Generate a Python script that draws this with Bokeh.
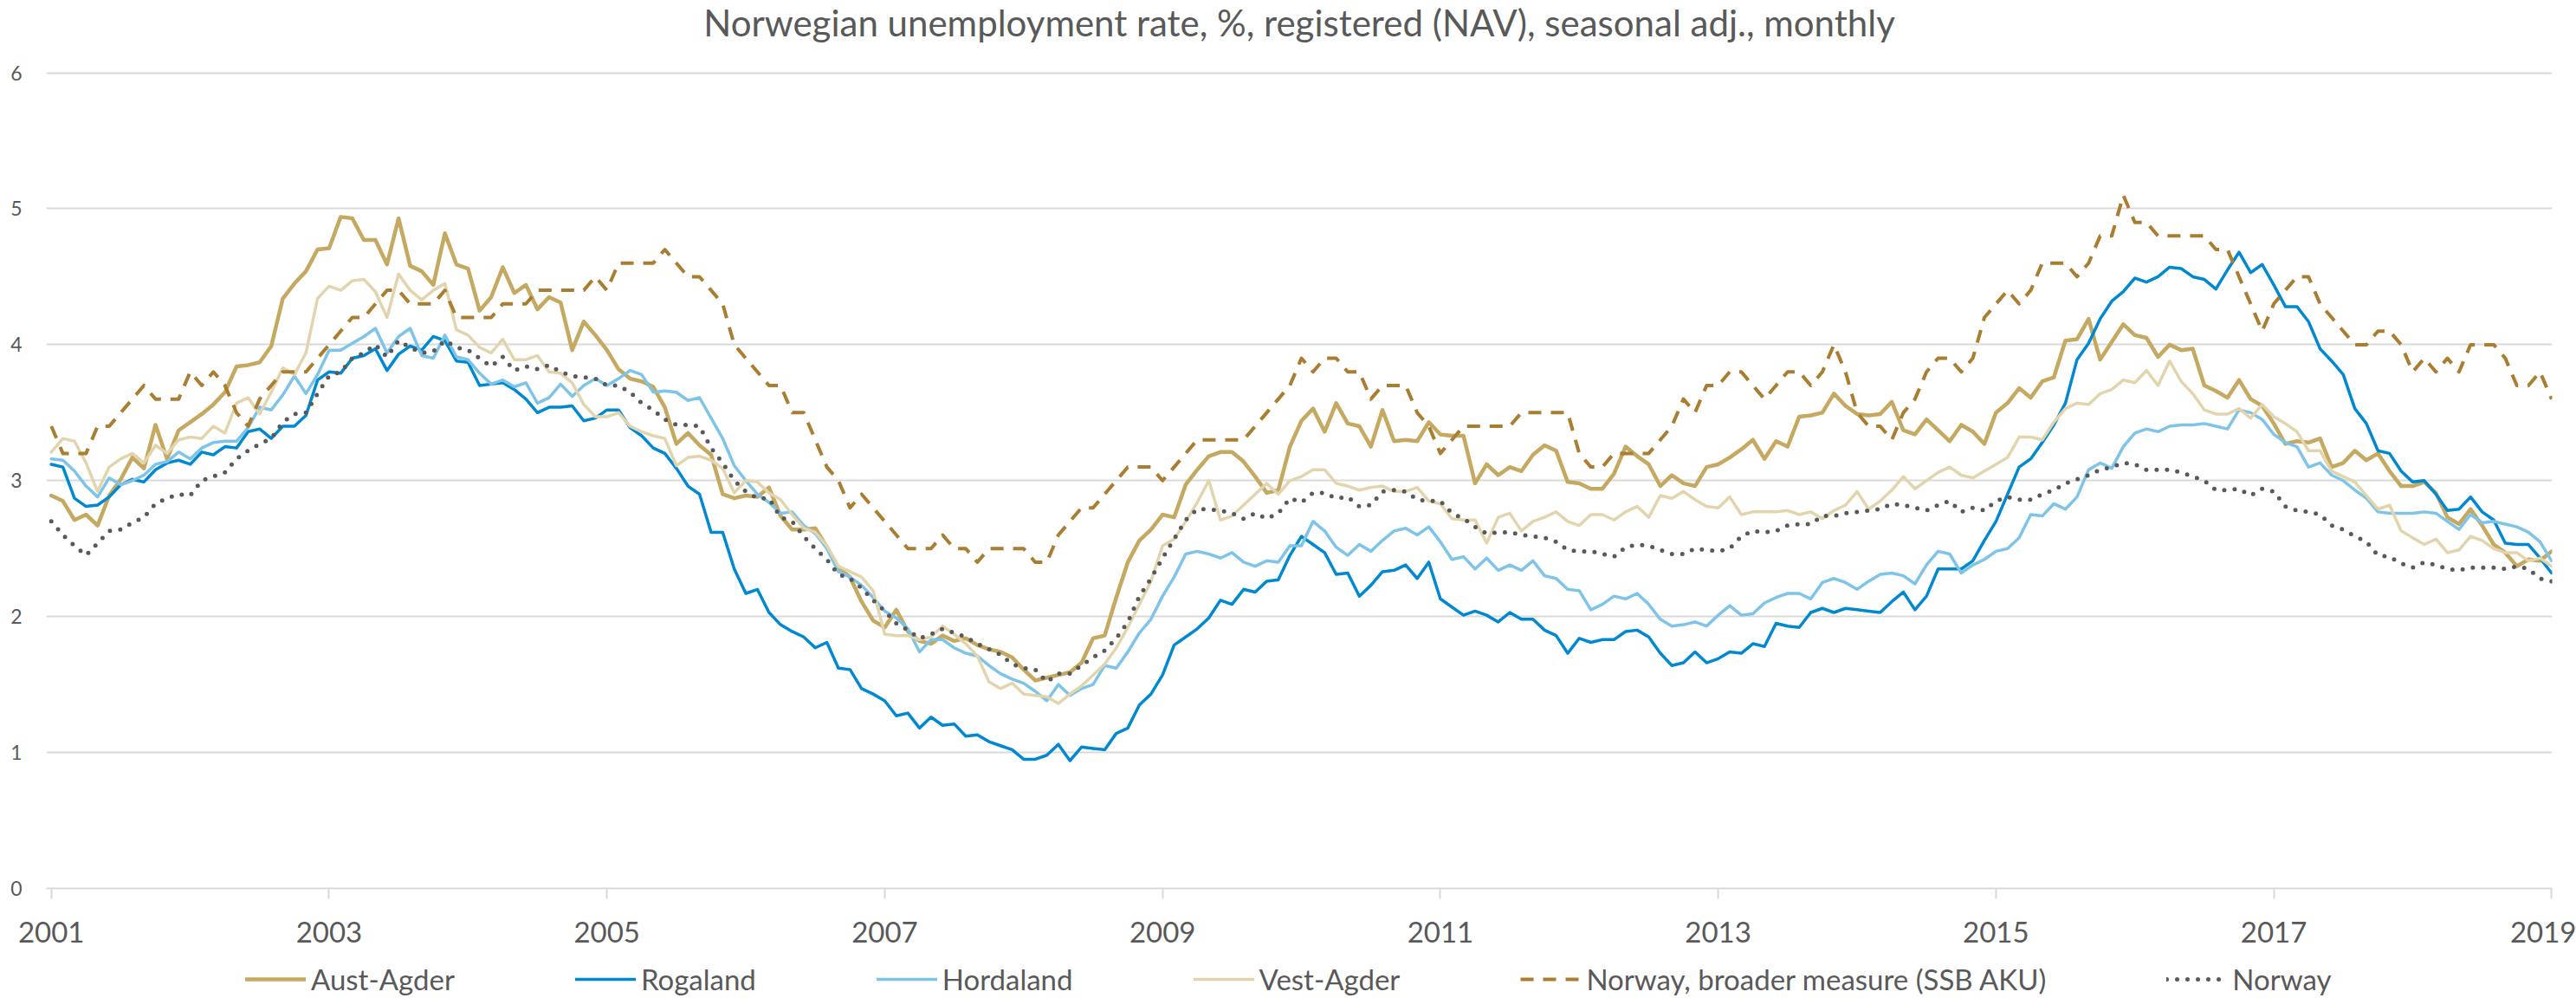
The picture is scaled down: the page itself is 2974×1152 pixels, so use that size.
from bokeh.plotting import figure
from bokeh.layouts import column
from bokeh.models import Range1d, FixedTicker, Legend, LegendItem, ColumnDataSource, Label
from bokeh.embed import file_html
from bokeh.resources import INLINE

FONT = "Lato"
TXT = "#595959"
TITLE = "Norwegian unemployment rate, %, registered (NAV), seasonal adj., monthly"

start_year = 2001
n_months = 217  # Jan 2001 .. Jan 2019
months = [f"{start_year + k // 12}-{k % 12 + 1:02d}" for k in range(n_months)]
tick_labels = ["2001", "2003", "2005", "2007", "2009", "2011", "2013", "2015", "2017", "2019"]

aust_agder = [
    2.89, 2.85, 2.71, 2.75, 2.67, 2.89, 3.01, 3.17, 3.09, 3.41, 3.16, 3.37,
    3.43, 3.49, 3.56, 3.65, 3.84, 3.85, 3.87, 3.99, 4.34, 4.45, 4.54, 4.70,
    4.71, 4.94, 4.93, 4.77, 4.77, 4.59, 4.93, 4.58, 4.54, 4.44, 4.82, 4.59,
    4.56, 4.25, 4.35, 4.57, 4.38, 4.44, 4.26, 4.35, 4.31, 3.96, 4.17, 4.07,
    3.96, 3.82, 3.75, 3.73, 3.69, 3.54, 3.27, 3.35, 3.26, 3.19, 2.90, 2.87,
    2.89, 2.88, 2.95, 2.74, 2.64, 2.64, 2.65, 2.51, 2.36, 2.29, 2.11, 1.97,
    1.92, 2.05, 1.89, 1.82, 1.80, 1.86, 1.82, 1.84, 1.79, 1.76, 1.74, 1.70,
    1.61, 1.53, 1.55, 1.57, 1.59, 1.66, 1.84, 1.86, 2.14, 2.40, 2.56, 2.64,
    2.75, 2.73, 2.97, 3.08, 3.18, 3.21, 3.21, 3.14, 3.03, 2.91, 2.93, 3.25,
    3.44, 3.53, 3.36, 3.57, 3.42, 3.40, 3.25, 3.52, 3.29, 3.30, 3.29, 3.43,
    3.34, 3.33, 3.33, 2.98, 3.12, 3.04, 3.10, 3.07, 3.19, 3.26, 3.22, 2.99,
    2.98, 2.94, 2.94, 3.05, 3.25, 3.18, 3.12, 2.96, 3.04, 2.98, 2.96, 3.10,
    3.12, 3.17, 3.23, 3.30, 3.16, 3.29, 3.25, 3.47, 3.48, 3.50, 3.64, 3.55,
    3.49, 3.48, 3.49, 3.58, 3.37, 3.34, 3.45, 3.37, 3.29, 3.41, 3.36, 3.27,
    3.50, 3.57, 3.68, 3.61, 3.73, 3.76, 4.03, 4.04, 4.19, 3.89, 4.02, 4.15,
    4.07, 4.05, 3.91, 4.00, 3.96, 3.97, 3.70, 3.66, 3.61, 3.74, 3.60, 3.55,
    3.42, 3.27, 3.29, 3.28, 3.31, 3.10, 3.13, 3.22, 3.15, 3.20, 3.07, 2.96,
    2.96, 2.99, 2.91, 2.73, 2.68, 2.79, 2.67, 2.53, 2.47, 2.37, 2.42, 2.41, 2.48]

rogaland = [
    3.12, 3.10, 2.87, 2.81, 2.82, 2.88, 2.97, 3.01, 2.99, 3.08, 3.13, 3.15,
    3.12, 3.21, 3.19, 3.25, 3.24, 3.36, 3.38, 3.31, 3.40, 3.40, 3.48, 3.74,
    3.80, 3.79, 3.90, 3.92, 3.97, 3.81, 3.93, 3.99, 3.96, 4.06, 4.03, 3.88,
    3.87, 3.70, 3.71, 3.72, 3.67, 3.60, 3.50, 3.54, 3.54, 3.55, 3.44, 3.46,
    3.52, 3.52, 3.39, 3.33, 3.24, 3.20, 3.09, 2.96, 2.90, 2.62, 2.62, 2.35,
    2.17, 2.20, 2.03, 1.94, 1.89, 1.85, 1.77, 1.81, 1.62, 1.61, 1.47, 1.43,
    1.38, 1.27, 1.29, 1.18, 1.26, 1.20, 1.21, 1.12, 1.13, 1.08, 1.05, 1.02,
    0.95, 0.95, 0.98, 1.06, 0.94, 1.04, 1.03, 1.02, 1.14, 1.18, 1.35, 1.43,
    1.57, 1.79, 1.85, 1.91, 1.99, 2.12, 2.09, 2.20, 2.18, 2.26, 2.27, 2.45,
    2.59, 2.53, 2.47, 2.31, 2.32, 2.15, 2.23, 2.33, 2.34, 2.38, 2.28, 2.40,
    2.13, 2.07, 2.01, 2.04, 2.01, 1.96, 2.03, 1.98, 1.98, 1.90, 1.86, 1.73,
    1.84, 1.81, 1.83, 1.83, 1.89, 1.90, 1.85, 1.73, 1.64, 1.66, 1.74, 1.66,
    1.69, 1.74, 1.73, 1.80, 1.78, 1.95, 1.93, 1.92, 2.03, 2.06, 2.03, 2.06,
    2.05, 2.04, 2.03, 2.11, 2.18, 2.05, 2.15, 2.35, 2.35, 2.35, 2.41, 2.56,
    2.70, 2.90, 3.10, 3.16, 3.28, 3.41, 3.57, 3.89, 4.01, 4.19, 4.32, 4.39,
    4.49, 4.46, 4.50, 4.57, 4.56, 4.50, 4.48, 4.41, 4.55, 4.68, 4.53, 4.59,
    4.44, 4.28, 4.28, 4.17, 3.97, 3.88, 3.78, 3.53, 3.42, 3.22, 3.20, 3.07,
    2.99, 3.00, 2.90, 2.78, 2.79, 2.88, 2.77, 2.71, 2.54, 2.53, 2.53, 2.43, 2.32]

hordaland = [
    3.16, 3.15, 3.07, 2.96, 2.88, 3.02, 2.97, 3.00, 3.04, 3.12, 3.14, 3.21,
    3.16, 3.24, 3.28, 3.29, 3.29, 3.39, 3.54, 3.52, 3.63, 3.77, 3.64, 3.78,
    3.96, 3.96, 4.01, 4.06, 4.12, 3.94, 4.06, 4.12, 3.92, 3.90, 4.07, 3.91,
    3.89, 3.79, 3.71, 3.74, 3.69, 3.72, 3.57, 3.61, 3.71, 3.62, 3.70, 3.75,
    3.70, 3.75, 3.81, 3.78, 3.65, 3.66, 3.65, 3.59, 3.61, 3.46, 3.31, 3.11,
    3.00, 2.90, 2.84, 2.76, 2.77, 2.67, 2.61, 2.50, 2.33, 2.29, 2.23, 2.14,
    2.04, 1.99, 1.91, 1.74, 1.83, 1.83, 1.77, 1.73, 1.71, 1.64, 1.58, 1.54,
    1.51, 1.45, 1.38, 1.50, 1.42, 1.47, 1.50, 1.64, 1.62, 1.74, 1.88, 1.98,
    2.15, 2.29, 2.46, 2.48, 2.46, 2.43, 2.47, 2.40, 2.37, 2.41, 2.40, 2.52,
    2.52, 2.70, 2.63, 2.51, 2.45, 2.53, 2.48, 2.56, 2.63, 2.65, 2.60, 2.66,
    2.55, 2.42, 2.44, 2.35, 2.43, 2.34, 2.38, 2.34, 2.41, 2.30, 2.28, 2.20,
    2.19, 2.05, 2.09, 2.15, 2.13, 2.17, 2.09, 1.98, 1.93, 1.94, 1.96, 1.93,
    2.01, 2.08, 2.01, 2.02, 2.10, 2.14, 2.17, 2.17, 2.13, 2.25, 2.28, 2.25,
    2.20, 2.26, 2.31, 2.32, 2.30, 2.24, 2.38, 2.48, 2.46, 2.32, 2.38, 2.42,
    2.48, 2.50, 2.58, 2.75, 2.74, 2.83, 2.79, 2.88, 3.08, 3.13, 3.09, 3.25,
    3.35, 3.38, 3.36, 3.40, 3.41, 3.41, 3.42, 3.40, 3.38, 3.52, 3.50, 3.45,
    3.34, 3.28, 3.25, 3.10, 3.13, 3.04, 3.00, 2.93, 2.87, 2.77, 2.76, 2.76,
    2.76, 2.77, 2.76, 2.70, 2.64, 2.75, 2.69, 2.70, 2.68, 2.66, 2.62, 2.55, 2.41]

vest_agder = [
    3.21, 3.31, 3.29, 3.13, 2.92, 3.10, 3.16, 3.20, 3.13, 3.26, 3.20, 3.30,
    3.32, 3.31, 3.40, 3.35, 3.57, 3.61, 3.49, 3.65, 3.83, 3.78, 3.94, 4.34,
    4.43, 4.40, 4.47, 4.48, 4.39, 4.20, 4.52, 4.40, 4.33, 4.40, 4.45, 4.11,
    4.07, 3.98, 3.94, 4.04, 3.89, 3.89, 3.92, 3.80, 3.79, 3.72, 3.56, 3.47,
    3.47, 3.50, 3.40, 3.36, 3.33, 3.31, 3.11, 3.17, 3.18, 3.15, 3.09, 2.91,
    3.00, 2.99, 2.91, 2.86, 2.75, 2.65, 2.62, 2.52, 2.37, 2.33, 2.29, 2.19,
    1.87, 1.86, 1.86, 1.83, 1.85, 1.93, 1.87, 1.80, 1.71, 1.52, 1.47, 1.51,
    1.43, 1.42, 1.41, 1.36, 1.43, 1.49, 1.57, 1.65, 1.77, 1.92, 2.09, 2.26,
    2.52, 2.57, 2.70, 2.84, 3.00, 2.71, 2.74, 2.82, 2.90, 2.98, 2.90, 3.00,
    3.03, 3.08, 3.08, 2.98, 2.96, 2.93, 2.95, 2.96, 2.92, 2.92, 2.95, 2.85,
    2.83, 2.72, 2.71, 2.71, 2.54, 2.73, 2.76, 2.63, 2.70, 2.73, 2.77, 2.70,
    2.67, 2.75, 2.75, 2.71, 2.77, 2.81, 2.73, 2.89, 2.87, 2.92, 2.86, 2.81,
    2.80, 2.88, 2.75, 2.77, 2.77, 2.77, 2.78, 2.75, 2.77, 2.72, 2.78, 2.82,
    2.92, 2.79, 2.85, 2.93, 3.03, 2.94, 3.00, 3.06, 3.10, 3.04, 3.02, 3.07,
    3.12, 3.17, 3.32, 3.32, 3.30, 3.43, 3.53, 3.57, 3.56, 3.64, 3.67, 3.74,
    3.72, 3.81, 3.70, 3.88, 3.73, 3.64, 3.52, 3.49, 3.49, 3.53, 3.46, 3.56,
    3.47, 3.42, 3.36, 3.22, 3.22, 3.07, 3.03, 2.99, 2.89, 2.79, 2.82, 2.63,
    2.58, 2.53, 2.57, 2.47, 2.49, 2.59, 2.56, 2.50, 2.47, 2.47, 2.41, 2.43, 2.37]

norway_aku = [
    3.4, 3.2, 3.2, 3.2, 3.4, 3.4, 3.5, 3.6, 3.7, 3.6, 3.6, 3.6,
    3.8, 3.7, 3.8, 3.7, 3.5, 3.4, 3.6, 3.7, 3.8, 3.8, 3.8, 3.9,
    4.0, 4.1, 4.2, 4.2, 4.3, 4.4, 4.4, 4.3, 4.3, 4.3, 4.4, 4.2,
    4.2, 4.2, 4.2, 4.3, 4.3, 4.3, 4.4, 4.4, 4.4, 4.4, 4.4, 4.5,
    4.4, 4.6, 4.6, 4.6, 4.6, 4.7, 4.6, 4.5, 4.5, 4.4, 4.3, 4.0,
    3.9, 3.8, 3.7, 3.7, 3.5, 3.5, 3.3, 3.1, 3.0, 2.8, 2.9, 2.8,
    2.7, 2.6, 2.5, 2.5, 2.5, 2.6, 2.5, 2.5, 2.4, 2.5, 2.5, 2.5,
    2.5, 2.4, 2.4, 2.6, 2.7, 2.8, 2.8, 2.9, 3.0, 3.1, 3.1, 3.1,
    3.0, 3.1, 3.2, 3.3, 3.3, 3.3, 3.3, 3.3, 3.4, 3.5, 3.6, 3.7,
    3.9, 3.8, 3.9, 3.9, 3.8, 3.8, 3.6, 3.7, 3.7, 3.7, 3.5, 3.4,
    3.2, 3.3, 3.4, 3.4, 3.4, 3.4, 3.4, 3.5, 3.5, 3.5, 3.5, 3.5,
    3.2, 3.1, 3.1, 3.2, 3.2, 3.2, 3.2, 3.3, 3.4, 3.6, 3.5, 3.7,
    3.7, 3.8, 3.8, 3.7, 3.6, 3.7, 3.8, 3.8, 3.7, 3.8, 4.0, 3.8,
    3.5, 3.4, 3.4, 3.3, 3.5, 3.6, 3.8, 3.9, 3.9, 3.8, 3.9, 4.2,
    4.3, 4.4, 4.3, 4.4, 4.6, 4.6, 4.6, 4.5, 4.6, 4.8, 4.8, 5.1,
    4.9, 4.9, 4.8, 4.8, 4.8, 4.8, 4.8, 4.7, 4.7, 4.5, 4.3, 4.1,
    4.3, 4.4, 4.5, 4.5, 4.3, 4.2, 4.1, 4.0, 4.0, 4.1, 4.1, 4.0,
    3.8, 3.9, 3.8, 3.9, 3.8, 4.0, 4.0, 4.0, 3.9, 3.7, 3.7, 3.8, 3.6]

norway = [
    2.70, 2.60, 2.52, 2.45, 2.54, 2.63, 2.64, 2.69, 2.73, 2.83, 2.87, 2.90,
    2.89, 3.00, 3.03, 3.06, 3.16, 3.22, 3.27, 3.31, 3.43, 3.49, 3.50, 3.64,
    3.77, 3.80, 3.90, 3.94, 4.00, 3.91, 4.03, 3.98, 3.94, 3.95, 4.03, 3.98,
    3.96, 3.90, 3.84, 3.91, 3.81, 3.84, 3.82, 3.85, 3.80, 3.77, 3.76, 3.75,
    3.70, 3.70, 3.65, 3.57, 3.52, 3.45, 3.41, 3.41, 3.40, 3.24, 3.13, 3.00,
    2.92, 2.87, 2.87, 2.73, 2.70, 2.59, 2.50, 2.42, 2.31, 2.28, 2.21, 2.12,
    2.04, 1.95, 1.90, 1.84, 1.87, 1.91, 1.88, 1.85, 1.80, 1.76, 1.72, 1.65,
    1.62, 1.61, 1.52, 1.58, 1.58, 1.64, 1.70, 1.75, 1.84, 1.96, 2.15, 2.28,
    2.43, 2.57, 2.71, 2.79, 2.79, 2.78, 2.76, 2.72, 2.76, 2.72, 2.76, 2.87,
    2.84, 2.91, 2.91, 2.87, 2.88, 2.81, 2.82, 2.92, 2.93, 2.92, 2.86, 2.85,
    2.85, 2.76, 2.72, 2.66, 2.61, 2.62, 2.62, 2.60, 2.59, 2.58, 2.55, 2.49,
    2.48, 2.48, 2.46, 2.44, 2.51, 2.53, 2.52, 2.49, 2.46, 2.46, 2.50, 2.49,
    2.48, 2.50, 2.59, 2.63, 2.62, 2.63, 2.67, 2.68, 2.68, 2.74, 2.74, 2.76,
    2.77, 2.78, 2.79, 2.83, 2.82, 2.80, 2.78, 2.82, 2.85, 2.77, 2.80, 2.78,
    2.85, 2.88, 2.86, 2.86, 2.90, 2.93, 2.98, 3.01, 3.04, 3.08, 3.10, 3.13,
    3.12, 3.08, 3.08, 3.08, 3.06, 3.03, 3.00, 2.93, 2.93, 2.94, 2.89, 2.94,
    2.92, 2.81, 2.78, 2.77, 2.75, 2.67, 2.64, 2.59, 2.55, 2.45, 2.44, 2.39,
    2.36, 2.40, 2.38, 2.35, 2.34, 2.36, 2.36, 2.36, 2.35, 2.37, 2.35, 2.28, 2.26]

series = [
    ("Aust-Agder", aust_agder, "#C5A961", 4.5, "solid", "round"),
    ("Rogaland", rogaland, "#0089D0", 3.5, "solid", "round"),
    ("Hordaland", hordaland, "#7EC4E9", 3.5, "solid", "round"),
    ("Vest-Agder", vest_agder, "#E2D5AD", 3.5, "solid", "round"),
    ("Norway, broader measure (SSB AKU)", norway_aku, "#A97E30", 4, "15 11", "butt"),
    ("Norway", norway, "#595959", 5, "0 12", "round"),
]

x_idx = list(range(n_months))
data = {"x": x_idx, "month": months}
keys = ["aa", "ro", "ho", "va", "aku", "no"]
for k, (_, vals, *_r) in zip(keys, series):
    data[k] = vals
src = ColumnDataSource(data)

W = 2974
TITLE_H = 60
MAIN_H = 1037
LEG_H = 55
BL, BR = 53, 28  # frame borders left / right (shared by the column)

# ---- title strip
pt = figure(width=W, height=TITLE_H, output_backend="svg", toolbar_location=None,
            x_range=Range1d(0, 1), y_range=Range1d(0, 1), min_border=0,
            min_border_left=BL, min_border_right=BR,
            x_axis_location=None, y_axis_location=None)
pt.outline_line_color = None
pt.grid.visible = False
pt.add_layout(Label(x=(W - BL - BR) / 2, y=TITLE_H - 25.5, x_units="screen", y_units="screen",
                    text=TITLE, text_align="center", text_baseline="middle",
                    text_font=FONT, text_font_size="42px", text_color=TXT))

# ---- main chart
p = figure(width=W, height=MAIN_H, output_backend="svg", toolbar_location=None,
           x_range=Range1d(-0.43, 216.05), y_range=Range1d(0, 6.01),
           min_border_left=BL, min_border_right=BR, min_border_top=22, min_border_bottom=72)
p.outline_line_color = None
p.background_fill_color = "white"
p.border_fill_color = "white"

p.xgrid.grid_line_color = None
p.ygrid.grid_line_color = "#D9D9D9"
p.ygrid.grid_line_width = 2

p.yaxis.ticker = FixedTicker(ticks=[0, 1, 2, 3, 4, 5, 6])
p.yaxis.axis_line_color = None
p.yaxis.major_tick_line_color = None
p.yaxis.minor_tick_line_color = None
p.yaxis.major_label_text_font = FONT
p.yaxis.major_label_text_font_size = "23px"
p.yaxis.major_label_text_color = TXT
p.yaxis.major_label_standoff = 22

tick_pos = [24 * k for k in range(len(tick_labels))]
p.xaxis.ticker = FixedTicker(ticks=tick_pos)
p.xaxis.major_label_overrides = {t: lab for t, lab in zip(tick_pos, tick_labels)}
p.xaxis.axis_line_color = "#D9D9D9"
p.xaxis.axis_line_width = 2
p.xaxis.major_tick_line_color = "#D9D9D9"
p.xaxis.major_tick_line_width = 2
p.xaxis.major_tick_out = 12
p.xaxis.major_tick_in = 0
p.xaxis.minor_tick_line_color = None
p.xaxis.major_label_text_font = FONT
p.xaxis.major_label_text_font_size = "33px"
p.xaxis.major_label_text_color = TXT
p.xaxis.major_label_standoff = 26

for k, (name, vals, color, width, dash, cap) in zip(keys, series):
    p.line("x", k, source=src, line_color=color, line_width=width,
           line_dash=dash, line_cap=cap, line_join="round")

# ---- legend strip (same series, drawn outside its visible range; only the legend shows)
pl = figure(width=W, height=LEG_H, output_backend="svg", toolbar_location=None,
            x_range=Range1d(-0.43, 216.05), y_range=Range1d(100, 101), min_border=0,
            min_border_left=BL, min_border_right=BR,
            x_axis_location=None, y_axis_location=None)
pl.outline_line_color = None
pl.grid.visible = False
items = []
for k, (name, vals, color, width, dash, cap) in zip(keys, series):
    r = pl.line("x", k, source=src, line_color=color, line_width=width,
                line_dash=dash, line_cap=cap)
    items.append(LegendItem(label=name, renderers=[r]))

legend = Legend(items=items, orientation="horizontal", location=(283 - BL, 2),
                spacing=139, label_standoff=6, glyph_width=70, glyph_height=34,
                label_height=34, padding=0, margin=0,
                border_line_color=None, background_fill_alpha=0,
                label_text_font=FONT, label_text_font_size="33px",
                label_text_color=TXT)
pl.add_layout(legend, "center")

open("out.html", "w").write(file_html(column(pt, p, pl, spacing=0), INLINE))
